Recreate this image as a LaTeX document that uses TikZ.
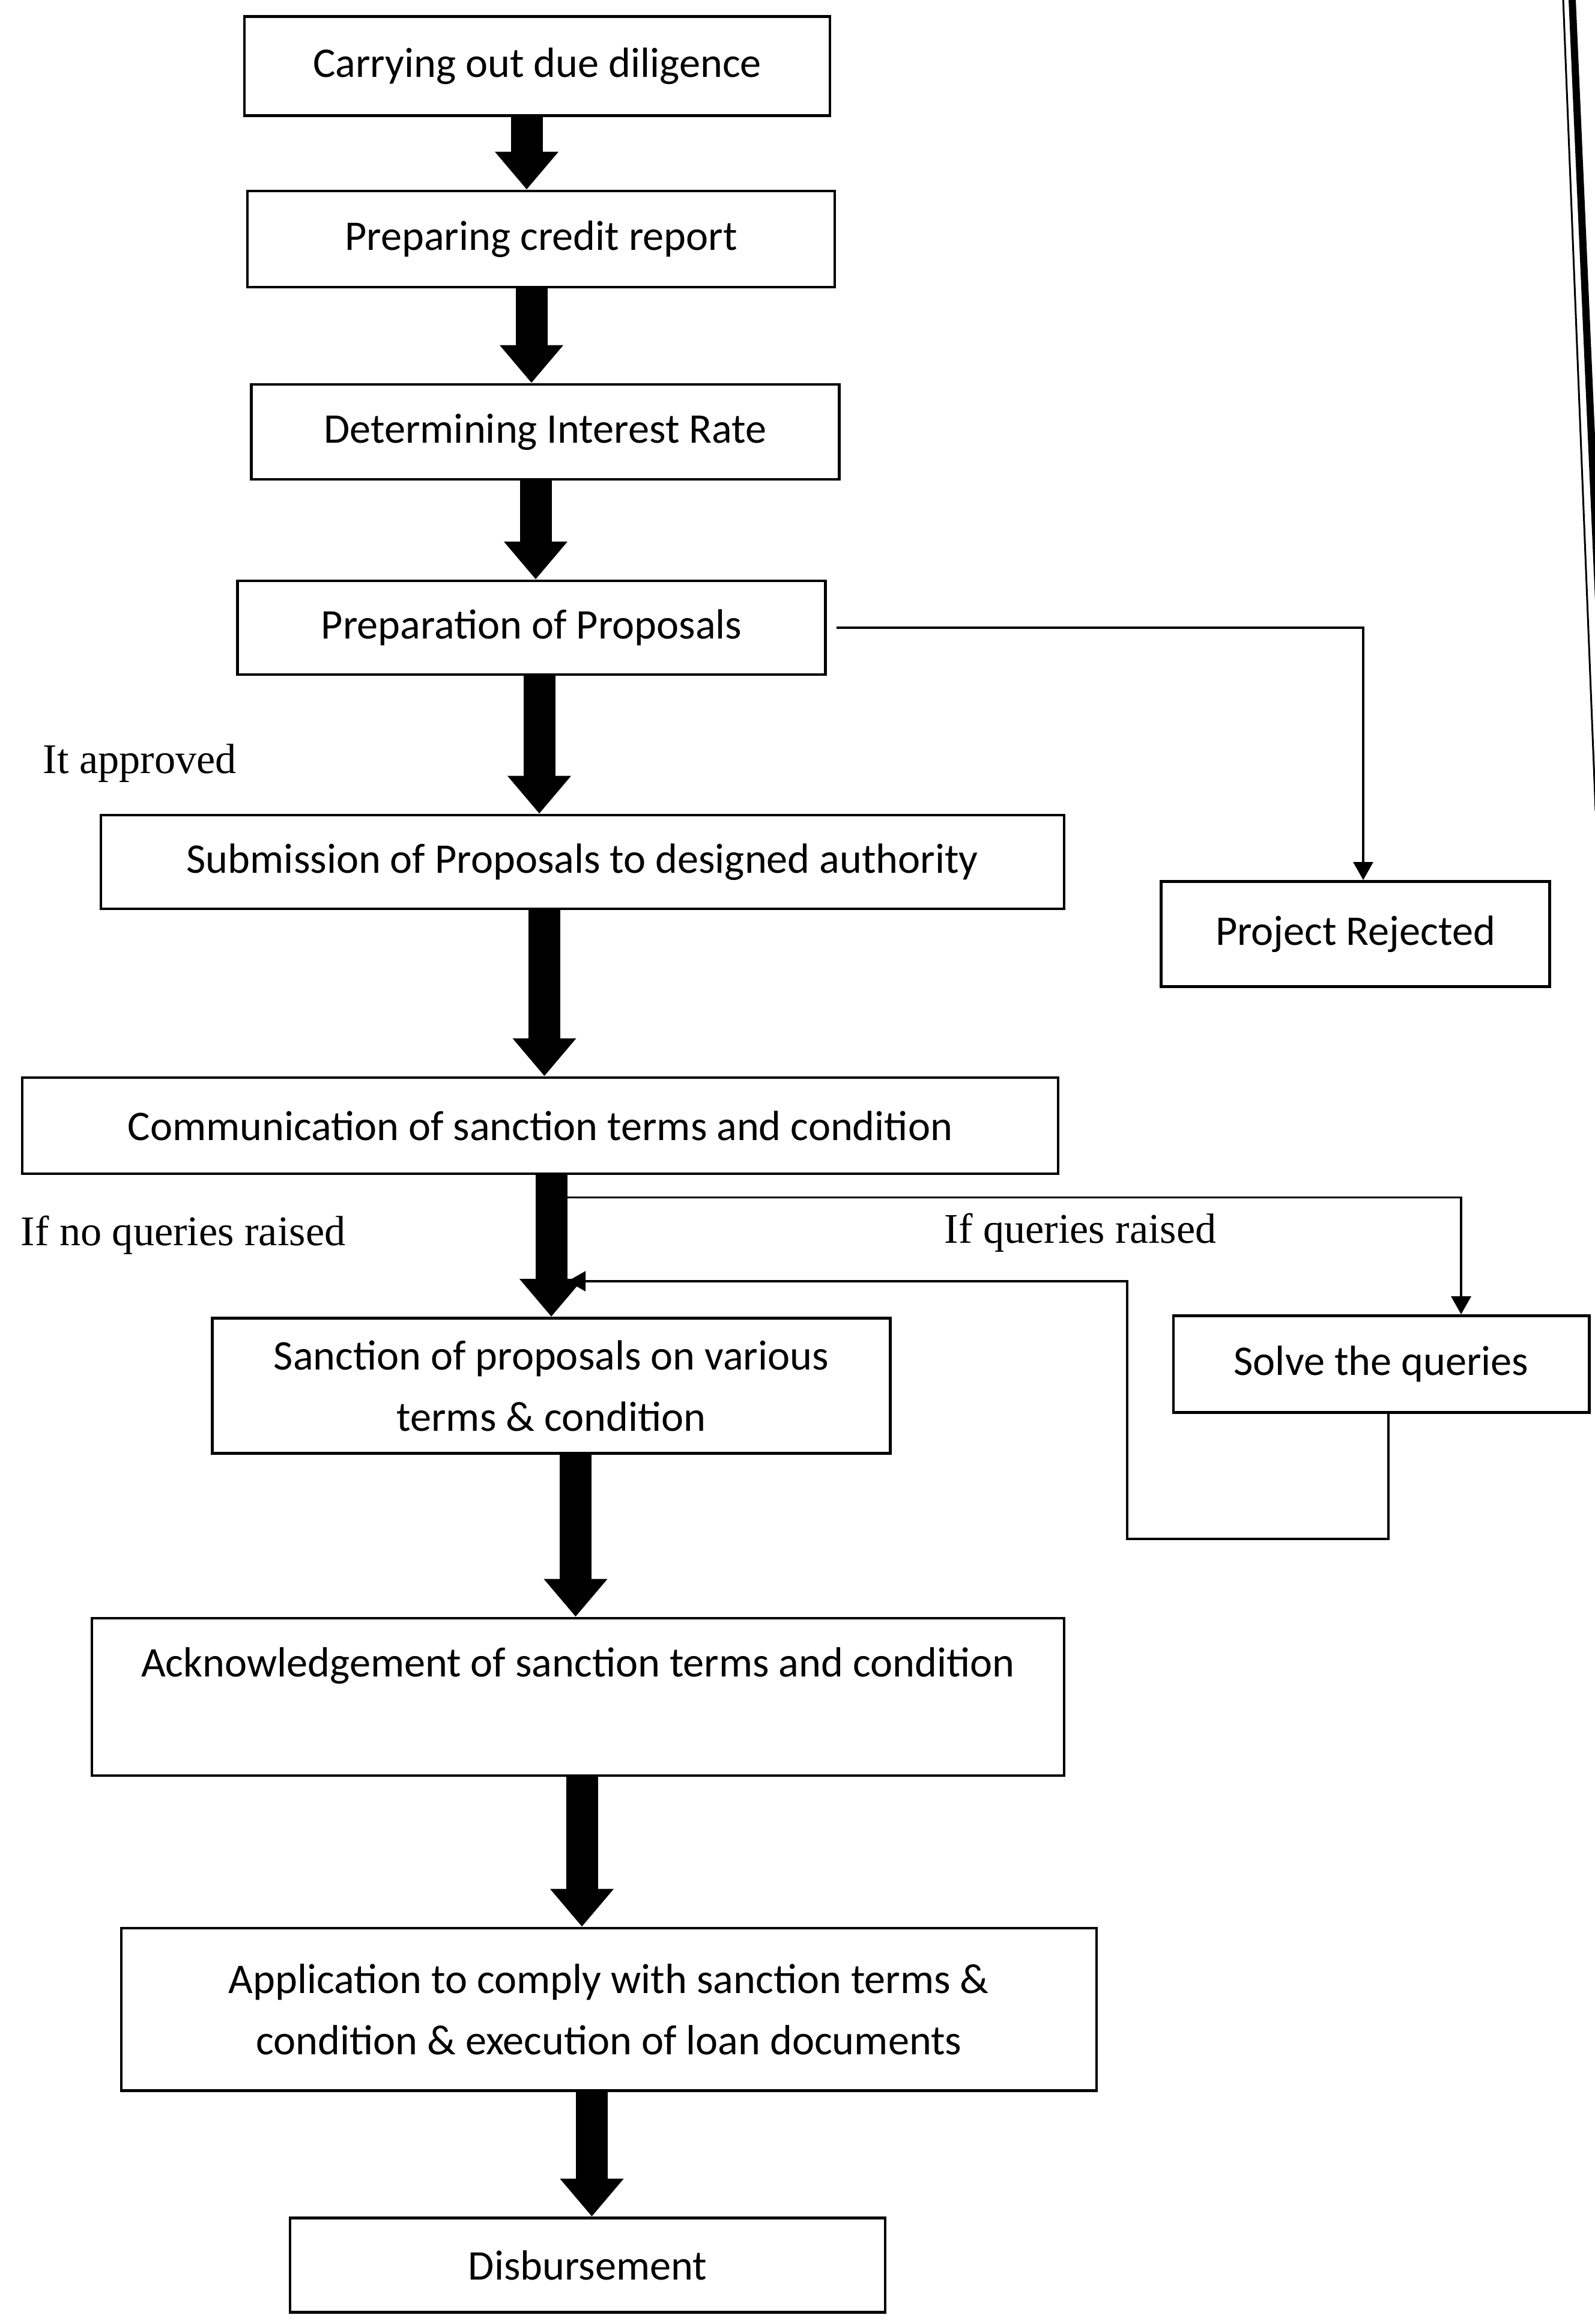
\documentclass[tikz,border=0pt]{standalone}
\usepackage{fontspec}
\setmainfont{Liberation Serif}
\newfontfamily\boxfont{Carlito}
\usetikzlibrary{arrows.meta}

\begin{document}
\begin{tikzpicture}[
    stagebox/.style={draw, line width=1.4pt, align=center, inner sep=0pt,
      font=\boxfont\fontsize{20}{29}\selectfont},
    bigarrow/.style={line width=0.53cm, -{Triangle[width=1.02cm,length=0.63cm]}},
    thinarrow/.style={line width=1pt, -{Triangle[width=0.33cm,length=0.3cm]}},
    note/.style={font=\fontsize{20}{24}\selectfont, inner sep=0pt, anchor=west}]
  \useasboundingbox (0,0) rectangle (26.55,-38.69);

  % page edge of the scan
  \draw[line width=0.03cm] (26.03,0) -- (26.57,-13.5);
  \draw[line width=0.12cm] (26.18,0) -- (26.62,-10);

  % stages
  \node[stagebox, minimum width=9.75cm, minimum height=1.65cm] (due) at (8.945,-1.10) {Carrying out due diligence};
  \node[stagebox, minimum width=9.78cm, minimum height=1.60cm] (credit) at (9.01,-3.98) {Preparing credit report};
  \node[stagebox, minimum width=9.79cm, minimum height=1.58cm] (rate) at (9.08,-7.19) {Determining Interest Rate};
  \node[stagebox, minimum width=9.79cm, minimum height=1.56cm] (prep) at (8.85,-10.45) {Preparation of Proposals};
  \node[stagebox, minimum width=16.04cm, minimum height=1.56cm] (submit) at (9.70,-14.35) {Submission of Proposals to designed authority};
  \node[stagebox, minimum width=6.47cm, minimum height=1.75cm] (reject) at (22.57,-15.55) {Project Rejected};
  \node[stagebox, minimum width=17.25cm, minimum height=1.60cm] (comm) at (8.995,-18.74) {Communication of sanction terms and condition};
  \node[stagebox, minimum width=11.29cm, minimum height=2.25cm] (sanction) at (9.18,-23.07) {Sanction of proposals on various\\terms \& condition};
  \node[stagebox, minimum width=6.92cm, minimum height=1.61cm] (solve) at (23.00,-22.71) {Solve the queries};
  \node[stagebox, minimum width=16.19cm, text height=0.97cm, text depth=1.65cm] (ack) at (9.625,-28.25) {Acknowledgement of sanction terms and condition};
  \node[stagebox, minimum width=16.24cm, minimum height=2.70cm] (apply) at (10.14,-33.45) {Application to comply with sanction terms \&\\condition \& execution of loan documents};
  \node[stagebox, minimum width=9.91cm, minimum height=1.57cm] (disb) at (9.785,-37.71) {Disbursement};

  % side notes
  \node[note] (approved) at (0.71,-12.71) {It approved};
  \node[note] (noqueries) at (0.34,-20.56) {If no queries raised};
  \node[note] (queries) at (15.72,-20.52) {If queries raised};

  % thin branches
  \coordinate (loopdown) at (18.77,-25.62);
  \coordinate (loopup) at (18.77,-21.33);
  \draw[thinarrow] ([xshift=0.16cm]prep.east) -| ([xshift=0.13cm]reject.north);
  \draw[thinarrow] ([yshift=-0.37cm]comm.south) -| ([xshift=1.33cm]solve.north);
  \draw[thinarrow] ([xshift=0.12cm]solve.south) |- (loopdown) -- (loopup)
    -- ([xshift=0.27cm]loopup -| sanction.north);

  % main flow
  \draw[bigarrow] ([xshift=-0.24cm]due.south -| credit.north) -- ([xshift=-0.24cm]credit.north);
  \draw[bigarrow] ([xshift=-0.23cm]credit.south -| rate.north) -- ([xshift=-0.23cm]rate.north);
  \draw[bigarrow] ([xshift=0.07cm]rate.south -| prep.north) -- ([xshift=0.07cm]prep.north);
  \draw[bigarrow] ([xshift=-0.72cm]prep.south -| submit.north) -- ([xshift=-0.72cm]submit.north);
  \draw[bigarrow] ([xshift=0.07cm]submit.south -| comm.north) -- ([xshift=0.07cm]comm.north);
  \draw[bigarrow] (comm.south -| sanction.north) -- (sanction.north);
  \draw[bigarrow] ([xshift=-0.04cm]sanction.south -| ack.north) -- ([xshift=-0.04cm]ack.north);
  \draw[bigarrow] ([xshift=-0.45cm]ack.south -| apply.north) -- ([xshift=-0.45cm]apply.north);
  \draw[bigarrow] ([xshift=0.07cm]apply.south -| disb.north) -- ([xshift=0.07cm]disb.north);
\end{tikzpicture}
\end{document}
